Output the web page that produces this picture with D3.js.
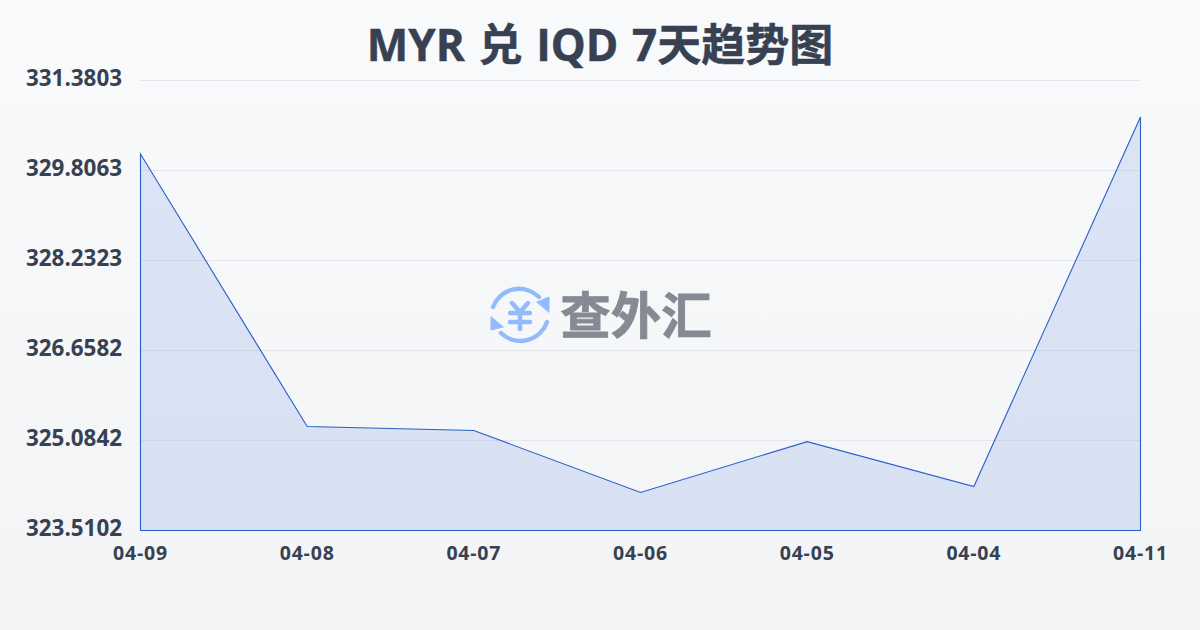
<!DOCTYPE html>
<html><head><meta charset="utf-8">
<script src="https://cdn.jsdelivr.net/npm/d3@7/dist/d3.min.js"></script>
<style>html,body{margin:0;padding:0;width:1200px;height:630px;overflow:hidden}
text{font-family:"Open Sans","Noto Sans CJK SC",sans-serif;font-weight:700;fill:#374151}</style>
</head><body><svg id="c" width="1200" height="630"></svg>
<script>
const titleText="MYR 兑 IQD 7天趋势图";
const dates=["04-09","04-08","04-07","04-06","04-05","04-04","04-11"];
const rates=[330.095,325.329,325.259,324.175,325.065,324.280,330.742];
const yTicks=[323.5102,325.0842,326.6582,328.2323,329.8063,331.3803];
const svg=d3.select("#c");
const defs=svg.append("defs");
const g=defs.append("linearGradient").attr("id","bg").attr("x1",0).attr("y1",0).attr("x2",0).attr("y2",1);
g.append("stop").attr("offset",0).attr("stop-color","#f8fafc");
g.append("stop").attr("offset",1).attr("stop-color","#f3f4f6");
svg.append("rect").attr("width",1200).attr("height",630).attr("fill","url(#bg)");
const x=d3.scalePoint().domain(dates).range([140.5,1140.5]);
const y=d3.scaleLinear().domain([yTicks[0],yTicks[5]]).range([530.5,80.5]);
svg.append("g").selectAll("line").data(yTicks).join("line")
 .attr("x1",140).attr("x2",1141).attr("y1",d=>y(d)).attr("y2",d=>y(d))
 .attr("stroke","#e5e7eb").attr("stroke-width",1);
const pts=dates.map((d,i)=>({d,v:rates[i]}));
const area=d3.area().x(p=>x(p.d)).y0(y(yTicks[0])).y1(p=>y(p.v));
svg.append("path").datum(pts).attr("d",area).attr("fill","#1d5bd0").attr("fill-opacity",0.13)
 .attr("stroke","#2a5fc9").attr("stroke-width",1.1);
svg.append("g").selectAll("text").data(yTicks).join("text")
 .attr("x",122).attr("y",d=>y(d)-2).attr("dy","0.35em").attr("text-anchor","end")
 .attr("font-size",22.4).text(d=>d.toFixed(4));
svg.append("g").selectAll("text").data(dates).join("text")
 .attr("x",d=>x(d)).attr("y",560).attr("text-anchor","middle")
 .attr("font-size",19.5).attr("letter-spacing",0.8).text(d=>d);
svg.append("text").attr("x",600).attr("y",61).attr("text-anchor","middle")
 .attr("font-size",44).attr("word-spacing",2.3).attr("stroke","#374151").attr("stroke-width",0.5).text(titleText);
// watermark
const wm=svg.append("g");
const logo=wm.append("g").attr("transform","translate(520,315)").attr("fill","none")
 .attr("stroke","#93bbfb").attr("stroke-width",4.4).attr("stroke-linecap","round").attr("stroke-linejoin","round");
logo.append("path").attr("d","M-27,-8 A28,28 0 0 1 19,-18");
logo.append("path").attr("d","M27,7 A28,28 0 0 1 -19,18");
logo.append("path").attr("d","M17,-13 L29,-18 L29,-3 Z").attr("fill","#93bbfb").attr("stroke-width",1);
logo.append("path").attr("d","M-17,12 L-29,15 L-29,2 Z").attr("fill","#93bbfb").attr("stroke-width",1);
logo.append("path").attr("d","M-8,-12 L0,-3 L8,-12 M-10,-2 H10 M-10,7 H10 M0,-3 V14");
wm.append("text").attr("x",636).attr("y",333.5).attr("text-anchor","middle")
 .attr("font-size",50.5).attr("stroke","#858a93").attr("stroke-width",0.8).style("fill","#858a93").text("查外汇");
</script></body></html>
